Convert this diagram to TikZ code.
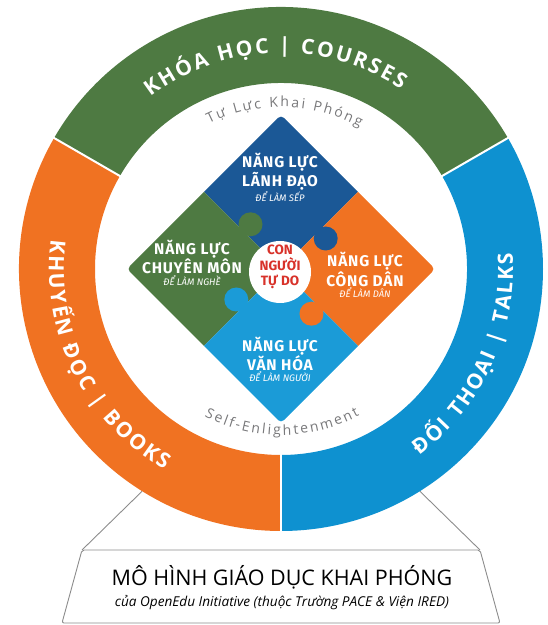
\documentclass[tikz,border=0pt]{standalone}
\usepackage{fontspec}
\setmainfont{Open Sans}
\newfontfamily\ringfont{Open Sans}
\newfontfamily\arcfont{Open Sans}
\newfontfamily\piecefont[LetterSpace=5]{Fira Sans}
\newfontfamily\corefont{Fira Sans}
\usetikzlibrary{decorations.text}

\definecolor{ringgreen}{RGB}{78,122,66}
\definecolor{ringorange}{RGB}{240,114,34}
\definecolor{ringblue}{RGB}{14,145,208}
\definecolor{piecedark}{RGB}{27,88,150}
\definecolor{piecelight}{RGB}{27,155,215}
\definecolor{corered}{RGB}{216,50,42}
\definecolor{softgrey}{RGB}{120,120,122}
\definecolor{framegrey}{RGB}{140,140,140}

\begin{document}
\begin{tikzpicture}[x=1pt,y=1pt,
    every node/.style={inner sep=0pt, text=white},
    title/.style={align=center, font=\piecefont\bfseries\fontsize{15.5}{17}\selectfont},
    subtitle/.style={font=\corefont\itshape\fontsize{9.5}{11}\selectfont},
    ringtext/.style={decorate, decoration={text along path, text align=center,
        text={|\ringfont\bfseries\fontsize{21}{24}\selectfont\color{white}\kern2.2pt|#1}}},
    arctext/.style={decorate, decoration={text along path, text align=center,
        text={|\arcfont\fontsize{14}{16}\selectfont\color{softgrey}\kern2.2pt|#1}}}]
    \useasboundingbox (0,0) rectangle (548,625);

    % pedestal under the wheel
    \coordinate (boxTL) at (82,75);
    \coordinate (boxTR) at (480,75);
    \coordinate (boxBL) at (62,2);
    \coordinate (boxBR) at (500,2);
    \coordinate (footL) at ([shift={(238:262pt)}]281,356);
    \coordinate (footR) at ([shift={(302:262pt)}]281,356);
    \draw[framegrey, line width=0.9pt] (footL) -- (boxTL);
    \draw[framegrey, line width=0.9pt] (footR) -- (boxTR);
    \draw[framegrey, line width=0.9pt, fill=white, rounded corners=2pt]
        (boxTL) -- (boxTR) -- (boxBR) -- (boxBL) -- cycle;
    \node[text=black, font=\fontsize{21.5}{24}\selectfont] (model) at (282,48) {MÔ HÌNH GIÁO DỤC KHAI PHÓNG};
    \node[text=black, font=\itshape\fontsize{13.6}{15}\selectfont] (owner) at (282,22) {của OpenEdu Initiative (thuộc Trường PACE \& Viện IRED)};

    \begin{scope}[shift={(281,356)}]
    % outer ring
    \fill[ringgreen] (30:186pt) -- (30:262pt) arc[start angle=30,end angle=150,radius=262pt]
        -- (150:186pt) arc[start angle=150,end angle=30,radius=186pt] -- cycle;
    \fill[ringorange] (150:186pt) -- (150:262pt) arc[start angle=150,end angle=270,radius=262pt]
        -- (270:186pt) arc[start angle=270,end angle=150,radius=186pt] -- cycle;
    \fill[ringblue] (270:186pt) -- (270:262pt) arc[start angle=270,end angle=390,radius=262pt]
        -- (30:186pt) arc[start angle=390,end angle=270,radius=186pt] -- cycle;
    \foreach \a in {30,150,270}
        \draw[white, line width=2pt] (\a:184pt) -- (\a:264pt);

    \path[ringtext={KHÓA HỌC {\textbar} COURSES}] (152:216pt) arc[start angle=152,end angle=32,radius=216pt];
    \path[ringtext={KHUYẾN ĐỌC {\textbar} BOOKS}] (146:232pt) arc[start angle=146,end angle=266,radius=232pt];
    \path[ringtext={ĐỐI THOẠI {\textbar} TALKS}] (275:232pt) arc[start angle=275,end angle=395,radius=232pt];

    \path[arctext={Tự Lực Khai Phóng}] (134:162pt) arc[start angle=134,end angle=44,radius=162pt];
    \path[arctext={Self-Enlightenment}] (225:166pt) arc[start angle=225,end angle=315,radius=166pt];

    % puzzle
    \begin{scope}
        \clip[rounded corners=4pt] (0,154) -- (154,0) -- (0,-154) -- (-154,0) -- cycle;
        \fill[piecedark] (0,154) -- (77,77) -- (0,0) -- (-77,77) -- cycle;
        \fill[ringgreen] (-77,77) -- (0,0) -- (-77,-77) -- (-154,0) -- cycle;
        \fill[ringorange] (77,77) -- (154,0) -- (77,-77) -- (0,0) -- cycle;
        \fill[piecelight] (0,0) -- (77,-77) -- (0,-154) -- (-77,-77) -- cycle;
        \fill[ringgreen] (-30.5,44.7) circle[radius=12pt];
        \fill[piecedark] (44.7,30.5) circle[radius=12pt];
        \fill[ringorange] (30.5,-44.7) circle[radius=12pt];
        \fill[piecelight] (-44.7,-30.5) circle[radius=12pt];
    \end{scope}
    \fill[white] (-1,-3) circle[radius=31pt];

    \node[title] (lead) at (-1,97.5) {NĂNG LỰC\\LÃNH ĐẠO};
    \node[subtitle] (leadsub) at (-1,72) {ĐỂ LÀM SẾP};
    \node[title] (craft) at (-89,12) {NĂNG LỰC\\CHUYÊN MÔN};
    \node[subtitle] (craftsub) at (-89,-12) {ĐỂ LÀM NGHỀ};
    \node[title] (civic) at (84,-0.5) {NĂNG LỰC\\CÔNG DÂN};
    \node[subtitle] (civicsub) at (84,-24) {ĐỂ LÀM DÂN};
    \node[title] (culture) at (-1,-85) {NĂNG LỰC\\VĂN HÓA};
    \node[subtitle] (culturesub) at (-1,-108) {ĐỂ LÀM NGƯỜI};
    \node[title, text=corered, font=\corefont\bfseries\fontsize{13.5}{15.5}\selectfont] (core) at (-1,2) {CON\\NGƯỜI\\TỰ DO};
    \end{scope}
\end{tikzpicture}
\end{document}
